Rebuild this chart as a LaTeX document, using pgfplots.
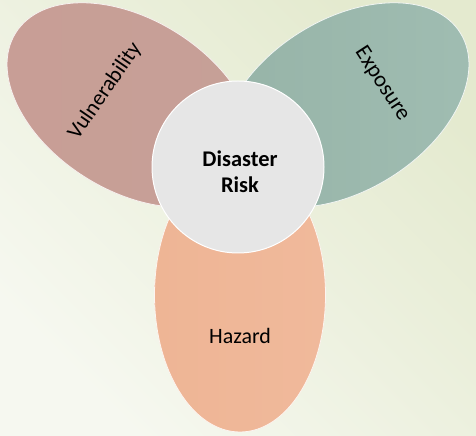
\documentclass[border=0pt]{standalone}
\usepackage{pgfplots}
\pgfplotsset{compat=1.18}
\usepackage{fontspec}
\setmainfont{Carlito}
\usetikzlibrary{shapes.geometric}
\definecolor{bgA}{HTML}{F6F8F0}
\definecolor{bgB}{HTML}{E4EACF}
\definecolor{vulC}{HTML}{C89E96}
\definecolor{vulD}{HTML}{C6A097}
\definecolor{expC}{HTML}{A0BDB2}
\definecolor{expD}{HTML}{96B3A7}
\definecolor{hazC}{HTML}{F0B99B}
\definecolor{hazD}{HTML}{EEB595}
\definecolor{cirC}{HTML}{E6E6E6}
\begin{document}
\begin{tikzpicture}
\begin{axis}[
  at={(0,0)}, anchor=south west,
  width=476bp, height=436bp, scale only axis,
  xmin=0, xmax=476, ymin=0, ymax=436,
  hide axis, clip=false,
]
% background
\shade[shading=axis, top color=bgB, bottom color=bgA, shading angle=-45]
  (axis cs:0,0) rectangle (axis cs:476,436);
% centres of the petals and of the circle
\addplot[draw=none, mark=none] coordinates {(131,331) (345,331) (240,141) (238,269)};
% Vulnerability
\node[ellipse, minimum width=272bp, minimum height=171bp, inner sep=0pt, outer sep=0pt,
  rotate=148, left color=vulC, right color=vulD, draw=white!85!vulC, line width=0.8pt]
  at (axis cs:131,331) {};
% Exposure
\node[ellipse, minimum width=272bp, minimum height=171bp, inner sep=0pt, outer sep=0pt,
  rotate=32, left color=expD, right color=expC, draw=white!85!expC, line width=0.8pt]
  at (axis cs:345,331) {};
% Hazard
\node[ellipse, minimum width=274bp, minimum height=171bp, inner sep=0pt, outer sep=0pt,
  rotate=90, left color=hazD, right color=hazC, draw=white!85!hazC, line width=0.8pt]
  at (axis cs:240,141) {};
% centre circle
\node[circle, minimum size=172bp, inner sep=0pt, outer sep=0pt,
  fill=cirC, draw=white, line width=1pt]
  at (axis cs:238,269) {};
% labels
\node[rotate=55.5, font=\fontsize{22}{26}\selectfont] at (axis cs:105,345) {Vulnerability};
\node[rotate=-57, font=\fontsize{22.5}{26}\selectfont] at (axis cs:382,352) {Exposure};
\node[font=\fontsize{22}{26}\selectfont] at (axis cs:240,100) {Hazard};
\node[align=center, font=\fontsize{22.5}{26.5}\selectfont\bfseries] at (axis cs:240,264) {Disaster\\Risk};
\end{axis}
\pgfresetboundingbox
\path (0,0) rectangle (476bp,436bp);
\end{tikzpicture}
\end{document}
